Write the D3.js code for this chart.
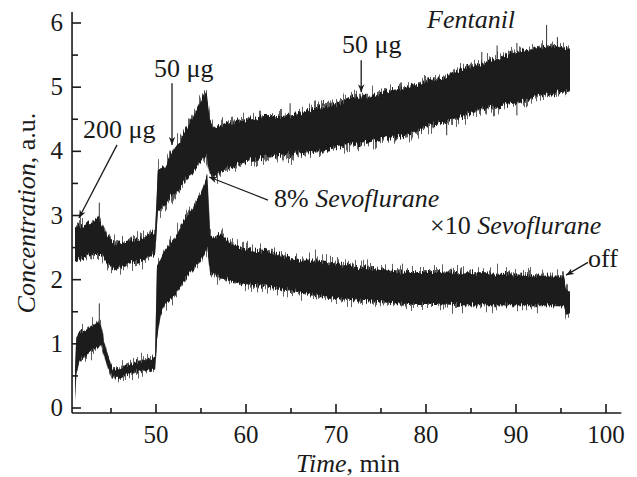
<!DOCTYPE html>
<html>
<head>
<meta charset="utf-8">
<script src="https://cdn.jsdelivr.net/npm/d3@7"></script>
<style>
body{margin:0;background:#fff}
text{font-family:"Liberation Serif","Times New Roman",serif;fill:#1a1a1a}
</style>
</head>
<body>
<svg width="637" height="477"></svg>
<script>
// Fentanil trace (upper band): time, upper and lower edge
const fentT  = [41, 42, 43, 43.6, 44, 44.5, 45.5, 47, 48.5, 49.9, 50.2, 51, 52, 53, 54, 55, 55.6, 56, 56.5, 58, 60, 62, 64, 66, 68, 70, 72, 74, 76, 78, 80, 82, 84, 86, 88, 90, 92, 94, 96];
const fentHi = [2.85, 2.85, 2.9, 3.0, 2.85, 2.7, 2.55, 2.6, 2.65, 2.75, 3.7, 3.75, 4.05, 4.25, 4.5, 4.8, 4.95, 4.5, 4.35, 4.45, 4.5, 4.55, 4.55, 4.6, 4.7, 4.72, 4.85, 4.85, 4.95, 5.0, 5.1, 5.15, 5.3, 5.35, 5.45, 5.55, 5.6, 5.65, 5.6];
const fentLo = [2.3, 2.35, 2.4, 2.4, 2.4, 2.25, 2.15, 2.25, 2.3, 2.4, 3.05, 3.15, 3.35, 3.5, 3.65, 3.85, 3.95, 3.65, 3.6, 3.75, 3.85, 3.9, 3.95, 3.97, 4.0, 4.05, 4.1, 4.15, 4.2, 4.25, 4.4, 4.45, 4.55, 4.65, 4.7, 4.75, 4.85, 4.9, 4.95];

// Sevoflurane x10 trace (lower band)
const sevoT  = [41, 41.15, 41.5, 42, 43, 43.6, 43.9, 44.2, 44.7, 45.2, 46, 47, 48.5, 49.9, 50.1, 50.5, 51, 52, 53, 54, 55, 55.7, 56, 56.5, 57.2, 58, 60, 62, 64, 66, 68, 70, 72, 75, 78, 81, 84, 87, 90, 93, 95.3, 95.6, 96];
const sevoHi = [0.55, 1.1, 1.2, 1.2, 1.28, 1.35, 1.3, 1.05, 0.8, 0.62, 0.62, 0.68, 0.74, 0.8, 2.2, 2.3, 2.45, 2.65, 2.9, 3.1, 3.35, 3.65, 2.7, 2.65, 2.72, 2.6, 2.48, 2.45, 2.38, 2.3, 2.3, 2.25, 2.2, 2.15, 2.12, 2.12, 2.1, 2.1, 2.08, 2.06, 2.07, 1.85, 1.8];
const sevoLo = [0.1, 0.55, 0.75, 0.8, 0.9, 0.95, 1.0, 0.85, 0.6, 0.5, 0.47, 0.54, 0.58, 0.6, 1.05, 1.45, 1.6, 1.75, 1.95, 2.15, 2.3, 2.5, 2.1, 2.1, 2.02, 2.0, 1.93, 1.9, 1.85, 1.8, 1.75, 1.7, 1.68, 1.65, 1.62, 1.62, 1.6, 1.6, 1.6, 1.6, 1.6, 1.45, 1.48];

// single spikes sticking out of the bands: time, base, tip
const spikeT    = [43.7, 43.7, 55.4, 64.9, 68.6, 73.0, 86.2, 87.9, 90.1, 93.4, 94.6, 56.3, 82.3, 90.1];
const spikeBase = [2.9, 1.3, 4.85, 4.55, 4.7, 4.85, 5.35, 5.45, 5.55, 5.6, 5.62, 3.65, 4.45, 4.75];
const spikeTip  = [3.2, 1.63, 4.95, 4.75, 4.8, 4.88, 5.55, 5.65, 5.69, 5.97, 5.78, 3.55, 4.25, 4.56];

const xMajor = [50, 60, 70, 80, 90, 100];
const xMinor = [45, 55, 65, 75, 85, 95];
const yMajor = [0, 1, 2, 3, 4, 5, 6];
const yMinor = [0.5, 1.5, 2.5, 3.5, 4.5, 5.5];

// arrows: from [t, v] to [t, v]
const arrowFrom = [[45.67, 4.1], [51.78, 5.06], [72.8, 5.42], [62.44, 3.24], [98.0, 2.27]];
const arrowTo   = [[41.44, 2.96], [51.78, 4.1], [72.8, 4.92], [55.9, 3.6], [95.56, 2.07]];

const svg = d3.select('svg');
const x = d3.scaleLinear().domain([50, 100]).range([156, 606]);
const y = d3.scaleLinear().domain([0, 6]).range([408, 23]);

const defs = svg.append('defs');
defs.append('marker')
   .attr('id', 'head')
   .attr('viewBox', '0 0 10 10')
   .attr('refX', 10).attr('refY', 5)
   .attr('markerWidth', 8).attr('markerHeight', 8)
   .attr('markerUnits', 'userSpaceOnUse')
   .attr('orient', 'auto')
   .append('path')
   .attr('d', 'M0,1 L10,5 L0,9 L3,5 Z')
   .attr('fill', '#1a1a1a');

// streaky edge look of a densely sampled signal (vertical displacement only)
function streaks(id, scale, seed){
    const f = defs.append('filter').attr('id', id)
        .attr('x', '-5%').attr('y', '-30%').attr('width', '110%').attr('height', '160%');
    f.append('feTurbulence').attr('type', 'fractalNoise')
        .attr('baseFrequency', '0.8 0.003').attr('numOctaves', 2).attr('seed', seed).attr('result', 'n');
    f.append('feColorMatrix').attr('in', 'n').attr('type', 'matrix')
        .attr('values', '0 0 0 0 0.5  0 1 0 0 0  0 0 0 0 0  0 0 0 0 1').attr('result', 'm');
    f.append('feDisplacementMap').attr('in', 'SourceGraphic').attr('in2', 'm')
        .attr('scale', scale).attr('xChannelSelector', 'R').attr('yChannelSelector', 'G');
}
streaks('rough', 34, 7);
streaks('fine', 12, 3);

function band(T, hi, lo){
    const rows = T.map((t, i) => ({t: t, hi: hi[i], lo: lo[i]}));
    const area = d3.area()
        .x(d => x(d.t))
        .y0(d => y(d.lo))
        .y1(d => y(d.hi));
    const g = svg.append('g');
    g.append('path')
       .datum(rows)
       .attr('d', area)
       .attr('fill', '#606060')
       .attr('filter', 'url(#rough)');
    g.append('path')
       .datum(rows)
       .attr('d', area)
       .attr('fill', '#1b1b1b')
       .attr('filter', 'url(#fine)');
}
band(fentT, fentHi, fentLo);
band(sevoT, sevoHi, sevoLo);

svg.append('g').selectAll('line')
   .data(spikeT)
   .enter()
   .append('line')
   .attr('x1', d => x(d)).attr('x2', d => x(d))
   .attr('y1', (d, i) => y(spikeBase[i]))
   .attr('y2', (d, i) => y(spikeTip[i]))
   .attr('stroke', '#333')
   .attr('stroke-width', 1);

// axes: only left and bottom, ticks pointing inward
const ax = svg.append('g').attr('stroke', '#1a1a1a').attr('stroke-width', 1.6);
ax.append('line').attr('x1', x(40.67)).attr('x2', x(101.7)).attr('y1', 413).attr('y2', 413);
ax.append('line').attr('x1', x(40.67)).attr('x2', x(40.67)).attr('y1', 413).attr('y2', y(6.17));
ax.selectAll('.xmaj').data(xMajor).enter().append('line')
  .attr('x1', d => x(d)).attr('x2', d => x(d)).attr('y1', 413).attr('y2', 404);
ax.selectAll('.xmin').data(xMinor).enter().append('line')
  .attr('x1', d => x(d)).attr('x2', d => x(d)).attr('y1', 413).attr('y2', 408);
ax.selectAll('.ymaj').data(yMajor).enter().append('line')
  .attr('x1', x(40.67)).attr('x2', x(40.67) + 9).attr('y1', d => y(d)).attr('y2', d => y(d));
ax.selectAll('.ymin').data(yMinor).enter().append('line')
  .attr('x1', x(40.67)).attr('x2', x(40.67) + 6).attr('y1', d => y(d)).attr('y2', d => y(d));

svg.append('g').selectAll('text').data(xMajor).enter().append('text')
   .attr('x', d => x(d)).attr('y', 443)
   .attr('text-anchor', 'middle').attr('font-size', 25)
   .text(d => d);
svg.append('g').selectAll('text').data(yMajor).enter().append('text')
   .attr('x', 63).attr('y', d => y(d) + 8)
   .attr('text-anchor', 'end').attr('font-size', 25)
   .text(d => d);

const xl = svg.append('text').attr('x', 348).attr('y', 472).attr('text-anchor', 'middle').attr('font-size', 26);
xl.append('tspan').attr('font-style', 'italic').text('Time');
xl.append('tspan').text(', min');
const yl = svg.append('text').attr('transform', 'translate(35,213) rotate(-90)').attr('text-anchor', 'middle').attr('font-size', 26);
yl.append('tspan').attr('font-style', 'italic').text('Concentration');
yl.append('tspan').text(', a.u.');

svg.append('g').selectAll('line')
   .data(arrowFrom)
   .enter()
   .append('line')
   .attr('x1', d => x(d[0])).attr('y1', d => y(d[1]))
   .attr('x2', (d, i) => x(arrowTo[i][0])).attr('y2', (d, i) => y(arrowTo[i][1]))
   .attr('stroke', '#1a1a1a').attr('stroke-width', 1.3)
   .attr('marker-end', 'url(#head)');

function label(px, py, parts){
    const t = svg.append('text').attr('x', px).attr('y', py).attr('font-size', 26);
    parts.forEach(p => t.append('tspan').attr('font-style', p[1] ? 'italic' : 'normal').text(p[0]));
}
label(83, 138, [['200 \u03bcg', false]]);
label(154, 77, [['50 \u03bcg', false]]);
label(342, 53, [['50 \u03bcg', false]]);
label(427, 28, [['Fentanil', true]]);
label(274, 207, [['8% ', false], ['Sevoflurane', true]]);
label(430, 234, [['\u00d710 ', false], ['Sevoflurane', true]]);
label(588, 267, [['off', false]]);
</script>
</body>
</html>
